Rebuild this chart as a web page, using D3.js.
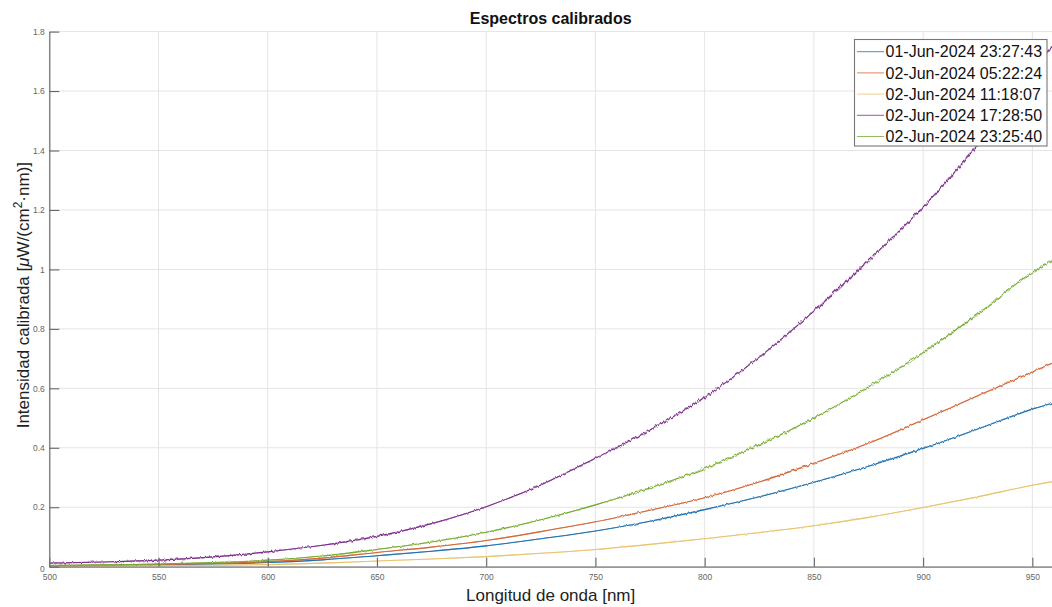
<!DOCTYPE html>
<html>
<head>
<meta charset="utf-8">
<script src="https://cdn.jsdelivr.net/npm/d3@7"></script>
<style>
  html, body { margin: 0; padding: 0; background: #fff; }
  svg { display: block; font-family: "Liberation Sans", Arial, Helvetica, sans-serif; }
</style>
</head>
<body>
<svg id="chart" width="1052" height="607"></svg>
<script>
// Wavelength samples (nm)
const wavelength = [500, 525, 550, 575, 600, 625, 650, 675, 700, 725, 750, 775, 800, 825, 850, 875, 900, 925, 950, 959];

// Calibrated intensity for each acquisition [µW/(cm²·nm)]
const spec0601_2327 = [0.003, 0.004, 0.006, 0.009, 0.014, 0.023, 0.037, 0.052, 0.070, 0.094, 0.120, 0.153, 0.192, 0.235, 0.284, 0.338, 0.398, 0.463, 0.530, 0.550];
const spec0602_0522 = [0.004, 0.005, 0.008, 0.011, 0.017, 0.029, 0.048, 0.066, 0.088, 0.118, 0.151, 0.190, 0.232, 0.285, 0.348, 0.415, 0.494, 0.575, 0.655, 0.684];
const spec0602_1118 = [0.002, 0.002, 0.003, 0.005, 0.007, 0.012, 0.019, 0.026, 0.034, 0.045, 0.058, 0.075, 0.094, 0.115, 0.138, 0.166, 0.199, 0.235, 0.274, 0.286];
const spec0602_1728 = [0.012, 0.016, 0.022, 0.033, 0.050, 0.072, 0.102, 0.145, 0.202, 0.275, 0.365, 0.460, 0.570, 0.705, 0.860, 1.030, 1.210, 1.420, 1.665, 1.750];
const spec0602_2325 = [0.004, 0.006, 0.009, 0.014, 0.022, 0.036, 0.058, 0.083, 0.116, 0.158, 0.208, 0.265, 0.330, 0.410, 0.500, 0.605, 0.720, 0.850, 0.990, 1.030];

const seriesNames = [
  "01-Jun-2024 23:27:43",
  "02-Jun-2024 05:22:24",
  "02-Jun-2024 11:18:07",
  "02-Jun-2024 17:28:50",
  "02-Jun-2024 23:25:40"
];
const seriesValues = [spec0601_2327, spec0602_0522, spec0602_1118, spec0602_1728, spec0602_2325];
const seriesColors = ["#2273b0", "#d4683a", "#e9c470", "#7e2f8e", "#77ac30"];
const noiseScale = [3, 3.5, 2, 6.5, 5.5];

const xTicks = [500, 550, 600, 650, 700, 750, 800, 850, 900, 950];
const yTicks = [0, 0.2, 0.4, 0.6, 0.8, 1.0, 1.2, 1.4, 1.6, 1.8];

const margin = { left: 49.3, top: 31.6, right: 1052, bottom: 566.7 };
const svg = d3.select("#chart");

const x = d3.scaleLinear().domain([500, 959]).range([margin.left, margin.right]);
const y = d3.scaleLinear().domain([0, 1.8]).range([margin.bottom, margin.top]);

const defs = svg.append("defs");
// Two spectral zones: the short-wavelength part is quieter than the long one
const split = x(760);
const zones = [
  { id: "zoneLo", x0: margin.left, x1: split, gain: 0.45 },
  { id: "zoneHi", x0: split, x1: margin.right, gain: 1 }
];
zones.forEach(z => {
  defs.append("clipPath").attr("id", z.id)
    .append("rect")
    .attr("x", z.x0).attr("y", margin.top - 6)
    .attr("width", z.x1 - z.x0).attr("height", margin.bottom - margin.top + 6);
});

// Measurement jitter along each trace (vertical only)
function jitterFilter(id, seed, scale) {
  const f = defs.append("filter").attr("id", id)
    .attr("filterUnits", "userSpaceOnUse")
    .attr("x", 0).attr("y", 0).attr("width", 1052).attr("height", 607);
  f.append("feTurbulence").attr("type", "fractalNoise")
    .attr("baseFrequency", "0.42 0.012").attr("numOctaves", 2).attr("seed", seed).attr("result", "noise");
  f.append("feColorMatrix").attr("in", "noise").attr("type", "matrix")
    .attr("values", "0 0 0 0 0.5  0 1 0 0 0  0 0 1 0 0  0 0 0 0 1").attr("result", "noiseY");
  f.append("feDisplacementMap").attr("in", "SourceGraphic").attr("in2", "noiseY")
    .attr("scale", scale).attr("xChannelSelector", "R").attr("yChannelSelector", "G");
}

// Grid
const grid = svg.append("g");
grid.selectAll("line.gx").data(xTicks).join("line")
  .attr("x1", d => x(d)).attr("x2", d => x(d))
  .attr("y1", margin.top).attr("y2", margin.bottom)
  .attr("stroke", "#e4e4e4").attr("stroke-width", 1);
grid.selectAll("line.gy").data(yTicks).join("line")
  .attr("x1", margin.left).attr("x2", margin.right)
  .attr("y1", d => y(d)).attr("y2", d => y(d))
  .attr("stroke", "#e4e4e4").attr("stroke-width", 1);

// Series
const line = d3.line()
  .x((d, i) => x(wavelength[i]))
  .y(d => y(d))
  .curve(d3.curveMonotoneX);

const plot = svg.append("g");
seriesValues.forEach((vals, i) => {
  const d = line(vals);
  zones.forEach((z, k) => {
    [0, 1].forEach(pass => {
      const fid = `jit${i}_${k}_${pass}`;
      jitterFilter(fid, 5 + i * 7 + pass * 3, noiseScale[i] * z.gain);
      plot.append("g").attr("clip-path", `url(#${z.id})`)
        .append("path")
        .attr("d", d)
        .attr("fill", "none")
        .attr("stroke", seriesColors[i])
        .attr("stroke-width", 1.1)
        .attr("opacity", pass === 0 ? 1 : 0.55)
        .attr("filter", `url(#${fid})`);
    });
  });
});

// Axes (ticks pointing inward)
const xAxis = d3.axisBottom(x).tickValues(xTicks).tickSizeInner(-9).tickSizeOuter(0).tickPadding(14);
const yAxis = d3.axisLeft(y).tickValues(yTicks).tickSizeInner(-10).tickSizeOuter(0)
  .tickFormat(d3.format("~g")).tickPadding(14);

const gx = svg.append("g").attr("transform", `translate(0,${margin.bottom})`).call(xAxis);
const gy = svg.append("g").attr("transform", `translate(${margin.left},0)`).call(yAxis);

[gx, gy].forEach(g => {
  g.select(".domain").attr("stroke", "#777").attr("stroke-width", 1.3);
  g.selectAll(".tick line").attr("stroke", "#666").attr("stroke-width", 1.1);
  g.selectAll(".tick text").attr("fill", "#666").attr("font-size", 8.5)
    .attr("font-family", "Liberation Sans, Arial, sans-serif");
});
gx.selectAll(".tick text").attr("dy", "0.35em").attr("y", 10.5);
gy.selectAll(".tick text").attr("x", -4.5);
gy.selectAll(".tick").filter(d => d === 0).select("text").attr("dy", "0.55em");

// Title and axis labels
svg.append("text")
  .attr("x", (margin.left + margin.right) / 2).attr("y", 24)
  .attr("text-anchor", "middle").attr("font-weight", "bold").attr("font-size", 16)
  .attr("fill", "#111")
  .text("Espectros calibrados");

svg.append("text")
  .attr("x", (margin.left + margin.right) / 2).attr("y", 601)
  .attr("text-anchor", "middle").attr("font-size", 17).attr("fill", "#222")
  .text("Longitud de onda [nm]");

const yl = svg.append("text")
  .attr("transform", `translate(28.5,${(margin.top + margin.bottom) / 2 - 4}) rotate(-90)`)
  .attr("text-anchor", "middle").attr("font-size", 17).attr("fill", "#222");
yl.append("tspan").text("Intensidad calibrada [");
yl.append("tspan").attr("font-style", "italic").text("\u03bc");
yl.append("tspan").text("W/(cm");
yl.append("tspan").attr("baseline-shift", "super").attr("font-size", 12).text("2");
yl.append("tspan").text("\u00b7nm)]");

// Legend
const lg = svg.append("g");
lg.append("rect")
  .attr("x", 854.5).attr("y", 39.5).attr("width", 192.5).attr("height", 106.5)
  .attr("fill", "#fff").attr("stroke", "#777").attr("stroke-width", 1.1);
seriesNames.forEach((name, i) => {
  const cy = 51.7 + i * 21.2;
  lg.append("line")
    .attr("x1", 857).attr("x2", 884).attr("y1", cy).attr("y2", cy)
    .attr("stroke", seriesColors[i]).attr("stroke-width", 1).attr("opacity", 0.8);
  lg.append("text")
    .attr("x", 885.5).attr("y", cy).attr("dy", "0.36em")
    .attr("font-size", 16).attr("fill", "#111")
    .text(name);
});
</script>
</body>
</html>
